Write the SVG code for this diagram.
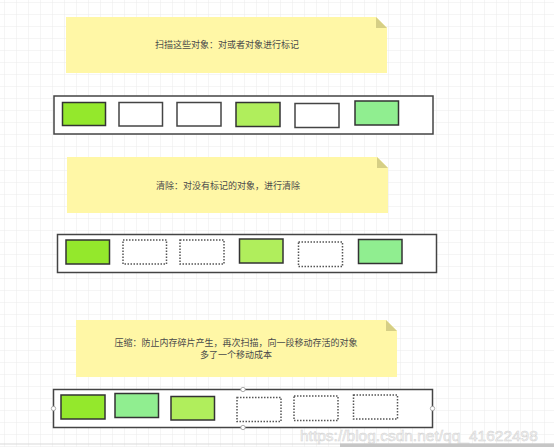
<svg xmlns="http://www.w3.org/2000/svg" width="554" height="447" viewBox="0 0 554 447">
<defs>
<pattern id="grid" width="12" height="12" patternUnits="userSpaceOnUse" x="5" y="3">
<path d="M12 0V12M0 12H12" fill="none" stroke="#ebebeb" stroke-width="1"/>
</pattern>
<style>
.note{fill:#fff7a6}
.fold{fill:#d6cf85}
.txt{font-family:"Noto Sans CJK SC","Noto Sans",sans-serif;font-size:9px;fill:#4a4a4a;text-anchor:middle}
.bar{fill:#fff;stroke:#444;stroke-width:1.5}
.g1{fill:#94e82c;stroke:#333;stroke-width:1.5}
.g2{fill:#b0ee5c;stroke:#333;stroke-width:1.5}
.g3{fill:#90ee90;stroke:#333;stroke-width:1.5}
.empty{fill:#fff;stroke:#444;stroke-width:1.5}
.dot{fill:#fff;stroke:#555;stroke-width:1.5;stroke-dasharray:1.5 1.5}
.handle{fill:#fff;stroke:#999;stroke-width:0.8}
</style>
</defs>
<rect width="554" height="447" fill="#fff"/>
<rect width="554" height="447" fill="url(#grid)"/>

<g id="note1">
<path class="note" d="M66 17H376L387 28V73H66Z"/>
<path class="fold" d="M376 17L387 28H376Z"/>
<text class="txt" x="227" y="48">扫描这些对象：对或者对象进行标记</text>
</g>
<g id="heap1">
<rect class="bar" x="54" y="96" width="379" height="38"/>
<rect class="g1" x="62.5" y="102.5" width="43" height="23"/>
<rect class="empty" x="119" y="102.5" width="43.5" height="23.5"/>
<rect class="empty" x="177" y="102.5" width="44" height="23.5"/>
<rect class="g2" x="236" y="102.5" width="44" height="24"/>
<rect class="empty" x="295" y="103.5" width="44" height="24"/>
<rect class="g3" x="355" y="101" width="43.5" height="24"/>
</g>

<g id="note2">
<path class="note" d="M67 157H377L388 168V213H67Z"/>
<path class="fold" d="M377 157L388 168H377Z"/>
<text class="txt" x="228" y="189">清除：对没有标记的对象，进行清除</text>
</g>
<g id="heap2">
<rect class="bar" x="57.5" y="234.5" width="379" height="38"/>
<rect class="g1" x="66" y="240" width="43.5" height="24"/>
<rect class="dot" x="123" y="240" width="43.5" height="24"/>
<rect class="dot" x="180" y="240" width="44" height="24"/>
<rect class="g2" x="239.5" y="239" width="43.5" height="24"/>
<rect class="dot" x="298.5" y="242" width="44" height="24.5"/>
<rect class="g3" x="358.5" y="239.5" width="43.5" height="24"/>
</g>

<g id="note3">
<path class="note" d="M76 320H386L397 331V377H76Z"/>
<path class="fold" d="M386 320L397 331H386Z"/>
<text class="txt" x="236" y="346">压缩：防止内存碎片产生，再次扫描，向一段移动存活的对象</text>
<text class="txt" x="236" y="358">多了一个移动成本</text>
</g>
<g id="heap3">
<rect class="bar" x="53.5" y="389.5" width="379" height="38"/>
<rect class="g1" x="61" y="395" width="44" height="24"/>
<rect class="g3" x="115" y="393.5" width="43.5" height="24"/>
<rect class="g2" x="171" y="396.5" width="43.5" height="23.5"/>
<rect class="dot" x="237" y="397.5" width="44" height="24"/>
<rect class="dot" x="294" y="396" width="44" height="24.5"/>
<rect class="dot" x="353.5" y="395" width="44" height="24"/>
<circle class="handle" cx="53.5" cy="408.5" r="2.2"/>
<circle class="handle" cx="432.5" cy="408.5" r="2.2"/>
<circle class="handle" cx="243" cy="389.5" r="2.2"/>
<circle class="handle" cx="243" cy="427.5" r="2.2"/>
</g>

<g id="connectors"></g>

<text x="300" y="441" font-family="Liberation Sans, sans-serif" font-size="15.5" fill="#f4f4f4" stroke="#d2d2d2" stroke-width="0.5">https://blog.csdn.net/qq_41622498</text>
<rect x="0" y="443.5" width="554" height="1" fill="#d9d9d9"/>
<rect x="340" y="443.5" width="214" height="3.5" fill="#c6c6c6"/>
</svg>
